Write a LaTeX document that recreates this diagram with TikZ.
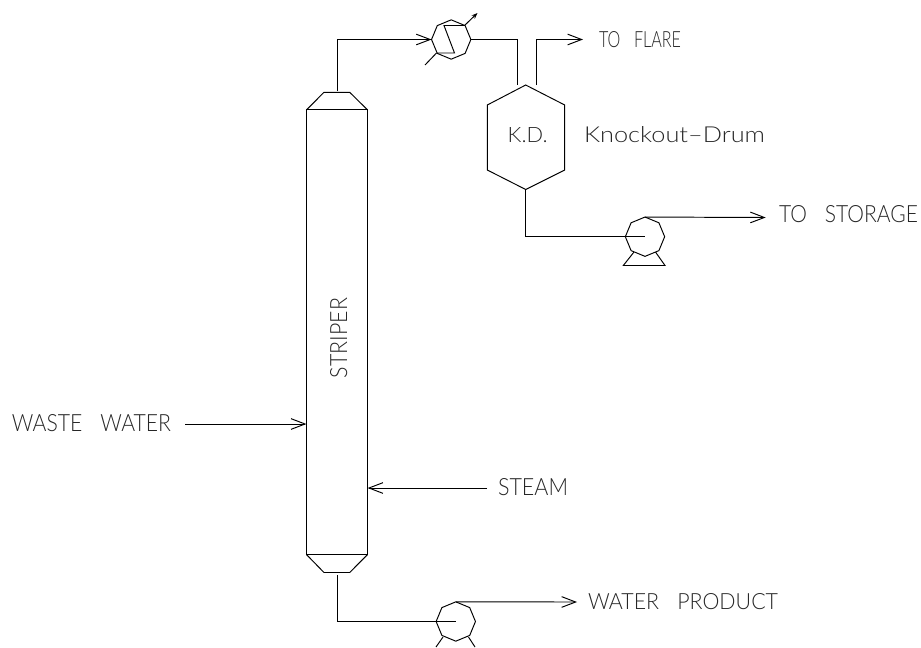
\documentclass[tikz,border=0pt]{standalone}
\usepackage{fontspec}
\usepackage{graphicx}
\setmainfont{Lato Light}
\usetikzlibrary{arrows.meta,shapes.geometric,calc}
\newlength\unitpx
\setlength\unitpx{0.75pt}
\newcommand{\lbl}[3]{\resizebox{#1\unitpx}{#2\unitpx}{#3}}
\newcommand{\gap}{\hspace{0.85em}}
\tikzset{
  pipe/.style={line width=0.72pt,line join=miter},
  flow/.style={pipe,-{Straight Barb[length=10.5pt,width=8pt,line width=0.72pt]}},
  vent/.style={pipe,-{Stealth[length=4.5pt,width=3.4pt]}},
  octa/.style={draw,pipe,regular polygon,regular polygon sides=8,shape border rotate=22.5,
    minimum size=29.5pt,inner sep=0pt,outer sep=0pt},
  body/.style={draw,pipe,rectangle,inner sep=0pt,outer sep=0pt},
  ghost/.style={rectangle,inner sep=0pt,outer sep=0pt},
  tag/.style={inner sep=0pt,outer sep=0pt,anchor=base west,text=black!85}
}
\begin{document}
\begin{tikzpicture}[x=0.75pt,y=-0.75pt]
\useasboundingbox (0,0) rectangle (921,647);

% column
\node[body,minimum width=45.9pt,minimum height=333.4pt] (col) at (337,332.2) {};
\coordinate (colTL) at (324,92.3);
\coordinate (colTR) at (349.7,92.3);
\coordinate (colBL) at (324,572.5);
\coordinate (colBR) at (349.7,572.5);
\draw[pipe] (col.north west) -- (colTL) -- (colTR) -- (col.north east);
\draw[pipe] (col.south west) -- (colBL) -- (colBR) -- (col.south east);
\coordinate (colTop) at (337,91);
\coordinate (colBot) at (337,575);
\coordinate (feed) at (306.4,424);
\coordinate (feedStart) at (185,424);
\coordinate (steamIn) at (367.6,488);
\coordinate (steamStart) at (487,488);
\coordinate (colTurn) at (337,39.5);

% knockout drum
\node[ghost,minimum width=58.1pt,minimum height=78.2pt] (kd) at (526,137.2) {};
\coordinate (kdTop) at (525.7,85);
\coordinate (kdBot) at (525.7,189.5);
\coordinate (kdIn) at (517.3,85);
\coordinate (kdOut) at (536.7,85);
\coordinate (kdTL) at (487.3,105);
\coordinate (kdTR) at (564.7,105);
\coordinate (kdBL) at (487.3,170);
\coordinate (kdBR) at (564.7,170);
\draw[pipe] (kdTop) -- (kdTR) -- (kdBR) -- (kdBot) -- (kdBL) -- (kdTL) -- cycle;

% condenser
\node[octa] (cond) at (451.2,39.5) {};
\coordinate (cA) at (444,25.5);
\coordinate (cB) at (464.5,25.5);
\coordinate (cC) at (454.5,53);
\coordinate (cD) at (436.5,53);
\coordinate (cVent) at (477.5,13);
\coordinate (cDrain) at (425,65);
\draw[pipe] (cB) -- (cA) -- (cC) -- (cD);
\draw[vent] (cB) -- (cVent);
\draw[pipe] (cD) -- (cDrain);

% overhead pipes
\draw[flow] (colTop) -- (colTurn) -- (cond.west);
\coordinate (kdInTurn) at (517.3,39.5);
\draw[pipe] (cond.east) -- (kdInTurn) -- (kdIn);
\coordinate (flareTurn) at (536.7,39.5);
\coordinate (flareEnd) at (583,39.5);
\draw[flow] (kdOut) -- (flareTurn) -- (flareEnd);

% reflux pump
\node[octa] (pumpA) at (645,236.7) {};
\coordinate (pAlegL) at (634,252);
\coordinate (pAlegR) at (655.5,252);
\coordinate (pAbaseL) at (623.3,265.5);
\coordinate (pAbaseR) at (665,265.5);
\draw[pipe] (pAlegL) -- (pAbaseL) -- (pAbaseR) -- (pAlegR);
\coordinate (kdTurn) at (525.7,236.7);
\draw[pipe] (kdBot) -- (kdTurn) -- (pumpA.center);
\coordinate (storEnd) at (765.7,217.5);
\draw[flow] (pumpA.north) -- (storEnd);

% bottoms pump
\node[octa] (pumpB) at (455.8,621.5) {};
\coordinate (pBlegL) at (443,637);
\coordinate (pBlegR) at (468.5,637);
\coordinate (pBfootL) at (436,647);
\coordinate (pBfootR) at (475,647);
\draw[pipe] (pBlegL) -- (pBfootL);
\draw[pipe] (pBlegR) -- (pBfootR);
\coordinate (botTurn) at (337,621.5);
\draw[pipe] (colBot) -- (botTurn) -- (pumpB.center);
\coordinate (prodEnd) at (577,602);
\draw[flow] (pumpB.north) -- (prodEnd);

% feeds
\draw[flow] (feedStart) -- (feed);
\draw[flow] (steamStart) -- (steamIn);

% labels
\node[tag] (tWaste) at (12,431.5) {\lbl{159}{17}{WASTE\gap WATER}};
\node[tag] (tSteam) at (498,495) {\lbl{70}{17}{STEAM}};
\node[tag] (tStorage) at (779,222.5) {\lbl{139}{17}{TO\gap STORAGE}};
\node[tag] (tFlare) at (599,47) {\lbl{82}{16}{TO\gap FLARE}};
\node[tag] (tProd) at (588,609.3) {\lbl{190}{16}{WATER\gap PRODUCT}};
\node[tag] (tKD) at (507.7,142.2) {\lbl{40}{15}{K.D.}};
\node[tag] (tKnock) at (584,142.7) {\lbl{181}{16}{Knockout--Drum}};
\node[tag,rotate=90] (tStrip) at (347,378) {\lbl{80}{17}{STRIPER}};
\end{tikzpicture}
\end{document}
